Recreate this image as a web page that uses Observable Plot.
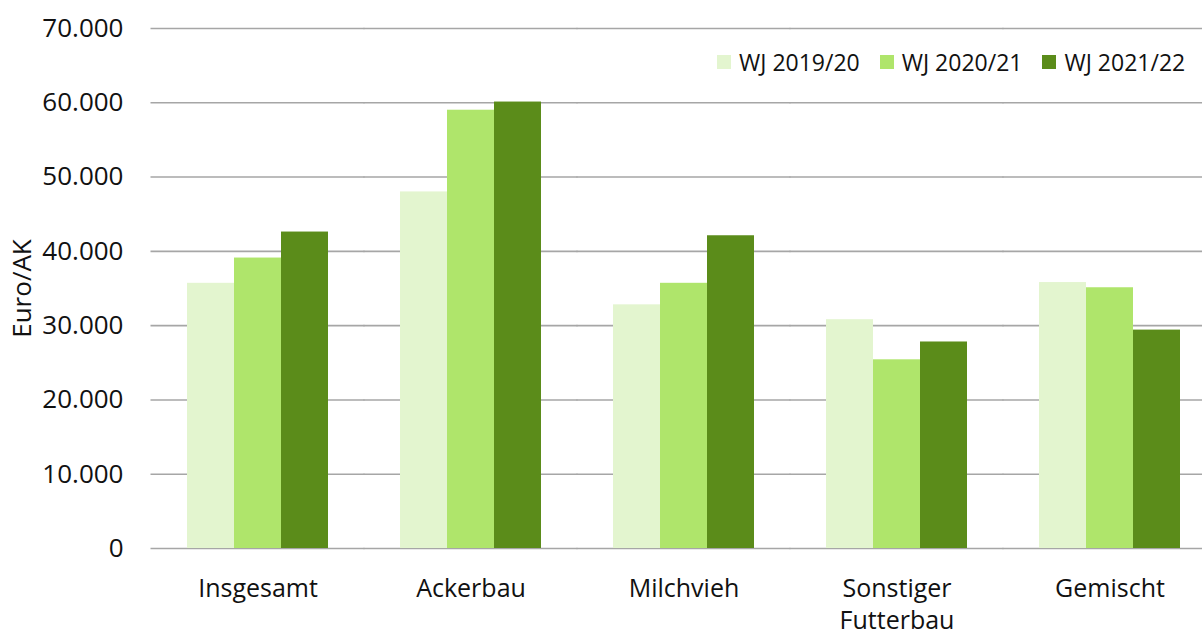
<!DOCTYPE html>
<html>
<head>
<meta charset="utf-8">
<script src="https://cdn.jsdelivr.net/npm/d3@7"></script>
<script src="https://cdn.jsdelivr.net/npm/@observablehq/plot@0.6"></script>
<style>
  html, body { margin: 0; padding: 0; background: #fff; }
  #wrap { position: relative; width: 1202px; height: 631px; overflow: hidden; font-family: "Open Sans", sans-serif; }
  #legend { position: absolute; left: 717px; top: 47px; display: flex; gap: 20px; font-size: 23px; line-height: 30px; color: #111; }
  .item { display: flex; align-items: center; gap: 8px; }
  .sw { width: 14px; height: 14px; display: inline-block; }
</style>
</head>
<body>
<div id="wrap"></div>
<script>
const categories = ["Insgesamt", "Ackerbau", "Milchvieh", "Sonstiger Futterbau", "Gemischt"];
const categoryLabels = ["Insgesamt", "Ackerbau", "Milchvieh", "Sonstiger\nFutterbau", "Gemischt"];
const years = ["WJ 2019/20", "WJ 2020/21", "WJ 2021/22"];
const values2019 = [35700, 48000, 32800, 30800, 35800];
const values2020 = [39100, 59000, 35700, 25400, 35100];
const values2021 = [42600, 60100, 42100, 27800, 29400];
const yTicks = [0, 10000, 20000, 30000, 40000, 50000, 60000, 70000];
const colors = ["#e3f5cf", "#afe56b", "#5b8c1a"];

const series = [values2019, values2020, values2021];
const data = [];
categories.forEach((c, i) => {
  years.forEach((y, j) => data.push({category: c, year: y, value: series[j][i]}));
});

const de = d3.formatLocale({decimal: ",", thousands: ".", grouping: [3], currency: ["", " €"]});
const fmt = de.format(",d");
const labelOf = new Map(categories.map((c, i) => [c, categoryLabels[i]]));

const chart = Plot.plot({
  width: 1202,
  height: 631,
  marginLeft: 151,
  marginRight: 0,
  marginTop: 28,
  marginBottom: 83,
  style: {fontFamily: "'Open Sans', sans-serif", fontSize: "25px", color: "#111", background: "white", overflow: "visible"},
  fx: {domain: categories, paddingInner: 0.338, paddingOuter: 0.136, align: 0.62, label: null},
  x: {domain: years, padding: 0, axis: null},
  y: {domain: [0, 70000], label: null},
  color: {domain: years, range: colors},
  marks: [
    Plot.ruleY(yTicks, {stroke: "#a6a6a6", strokeWidth: 1.6, insetLeft: -36.5, insetRight: -36.5}),
    Plot.barY(data, {fx: "category", x: "year", y: "value", fill: "year"}),
    Plot.axisY({ticks: yTicks, tickSize: 0, tickPadding: 64, tickFormat: fmt, fontSize: 26,
      label: "Euro/AK", labelAnchor: "center", labelArrow: "none", labelOffset: 175}),
    Plot.axisFx({anchor: "bottom", tickSize: 0, tickPadding: 25, fontSize: 25, lineHeight: 1.3,
      tickFormat: d => labelOf.get(d), label: null})
  ]
});

const wrap = document.getElementById("wrap");
wrap.appendChild(chart);

const legend = document.createElement("div");
legend.id = "legend";
years.forEach((y, j) => {
  const item = document.createElement("div");
  item.className = "item";
  const sw = document.createElement("span");
  sw.className = "sw";
  sw.style.background = colors[j];
  const t = document.createElement("span");
  t.textContent = y;
  item.appendChild(sw);
  item.appendChild(t);
  legend.appendChild(item);
});
wrap.appendChild(legend);
</script>
</body>
</html>
